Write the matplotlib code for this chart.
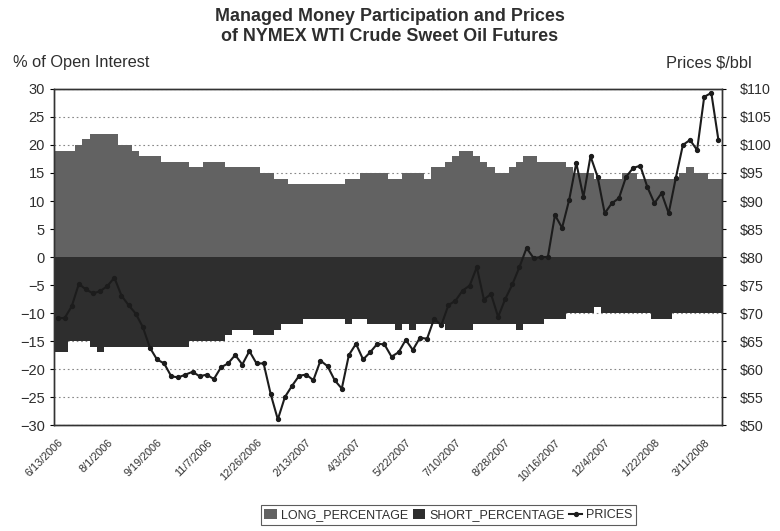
import matplotlib
matplotlib.use("Agg")
import matplotlib.pyplot as plt
import matplotlib.transforms as mtransforms
from matplotlib.patches import Patch
from matplotlib.lines import Line2D
import numpy as np
import pandas as pd

plt.rcParams['font.family'] = ['Liberation Sans', 'DejaVu Sans']

# weekly report dates (Tuesdays)
dates = pd.date_range("2006-06-13", periods=94, freq="7D")

# managed money long share of open interest (%)
long_pct = [19, 19, 19, 20, 21, 22, 22, 22, 22, 20, 20, 19, 18, 18, 18, 17, 17, 17, 17, 16,
            16, 17, 17, 17, 16, 16, 16, 16, 16, 15, 15, 14, 14, 13, 13, 13, 13, 13, 13, 13,
            13, 14, 14, 15, 15, 15, 15, 14, 14, 15, 15, 15, 14, 16, 16, 17, 18, 19, 19, 18,
            17, 16, 15, 15, 16, 17, 18, 18, 17, 17, 17, 17, 16, 15, 15, 15, 14, 14, 14, 14,
            15, 15, 14, 14, 14, 14, 14, 14, 15, 16, 15, 15, 14, 14]

# managed money short share of open interest (%), plotted negative
short_pct = [-17, -17, -15, -15, -15, -16, -17, -16, -16, -16, -16, -16, -16, -16, -16, -16,
             -16, -16, -16, -15, -15, -15, -15, -15, -14, -13, -13, -13, -14, -14, -14, -13,
             -12, -12, -12, -11, -11, -11, -11, -11, -11, -12, -11, -11, -12, -12, -12, -12,
             -13, -12, -13, -12, -12, -12, -12, -13, -13, -13, -13, -12, -12, -12, -12, -12,
             -12, -13, -12, -12, -12, -11, -11, -11, -10, -10, -10, -10, -9, -10, -10, -10,
             -10, -10, -10, -10, -11, -11, -11, -10, -10, -10, -10, -10, -10, -10]

# WTI front month price ($/bbl)
prices = [69.1, 69.1, 71.2, 75.2, 74.2, 73.5, 73.9, 74.8, 76.3, 73.1, 71.4, 69.9, 67.5, 63.8,
          61.7, 61.0, 58.7, 58.5, 59.0, 59.5, 58.7, 59.0, 58.2, 60.3, 61.0, 62.5, 60.8, 63.2,
          61.0, 61.0, 55.5, 51.0, 55.0, 57.0, 58.8, 59.0, 58.0, 61.5, 60.5, 58.0, 56.5, 62.5,
          64.5, 61.7, 63.0, 64.5, 64.4, 62.2, 63.0, 65.2, 63.4, 65.6, 65.4, 69.0, 67.8, 71.4,
          72.2, 74.0, 74.9, 78.2, 72.4, 73.4, 69.3, 72.5, 75.1, 78.2, 81.6, 79.8, 80.0, 80.0,
          87.5, 85.2, 90.2, 96.8, 90.7, 98.0, 94.3, 87.8, 89.6, 90.5, 94.3, 95.9, 96.3, 92.5,
          89.6, 91.4, 87.8, 94.1, 100.0, 100.9, 99.1, 108.6, 109.3, 100.9]

date_labels = [f"{d.month}/{d.day}/{d.year}" for d in dates]
x = np.arange(len(dates))

long_color = '#626262'
short_color = '#2e2e2e'
price_color = '#1c1c1c'
text_color = '#2e2e2e'

fig = plt.figure(figsize=(7.8, 5.31), dpi=100)
ax = fig.add_axes([0.0692, 0.1996, 0.8564, 0.6328])

ax.bar(x, long_pct, width=1.0, color=long_color, linewidth=0)
ax.bar(x, short_pct, width=1.0, color=short_color, linewidth=0)
ax.set_xlim(-0.5, len(x) - 0.5)
ax.set_ylim(-30, 30)
ax.set_yticks(np.arange(-30, 31, 5))
ax.set_axisbelow(True)
ax.yaxis.grid(True, linestyle=(0, (1.5, 2.5)), color='#888888', linewidth=0.8)
ax.set_xticks(x[::7])
ax.set_xticklabels(date_labels[::7], rotation=45, ha='right', va='top',
                   rotation_mode='anchor', fontsize=7.8, color=text_color)
# nudge the slanted date labels a little to the left, like the original
shift = mtransforms.ScaledTranslation(-4 / 100, 0, fig.dpi_scale_trans)
for lbl in ax.get_xticklabels():
    lbl.set_transform(lbl.get_transform() + shift)
ax.tick_params(axis='x', length=0, pad=9)
ax.tick_params(axis='y', labelsize=10.5, length=3, direction='out', labelcolor=text_color)
for s in ax.spines.values():
    s.set_linewidth(1.0)
    s.set_color('#333333')

ax2 = ax.twinx()
ax2.plot(x, prices, color=price_color, linewidth=1.5, marker='o', markersize=2.8)
ax2.set_ylim(50, 110)
ax2.set_yticks(np.arange(50, 111, 5))
ax2.set_yticklabels([f"${v}" for v in range(50, 111, 5)])
ax2.tick_params(axis='y', labelsize=10.3, length=3, direction='out', pad=10,
                labelcolor=text_color)
for s in ax2.spines.values():
    s.set_linewidth(1.0)
    s.set_color('#333333')

fig.text(0.5, 0.985, "Managed Money Participation and Prices\nof NYMEX WTI Crude Sweet Oil Futures",
         ha='center', va='top', fontsize=12.9, fontweight='bold', color=text_color,
         linespacing=1.25)
fig.text(0.017, 0.882, "% of Open Interest", ha='left', va='center', fontsize=11.8, color=text_color)
fig.text(0.964, 0.882, "Prices $/bbl", ha='right', va='center', fontsize=11.8, color=text_color)

handles = [Patch(facecolor=long_color, edgecolor='none'),
           Patch(facecolor=short_color, edgecolor='none'),
           Line2D([0], [0], color=price_color, linewidth=1.5, marker='o', markersize=2.8)]
leg = fig.legend(handles, ["LONG_PERCENTAGE", "SHORT_PERCENTAGE", "PRICES"],
                 loc='center', bbox_to_anchor=(0.5745, 0.030), ncol=3, fontsize=9.0,
                 frameon=True, fancybox=False, handlelength=1.0, handleheight=0.8,
                 handletextpad=0.3, columnspacing=0.4, borderpad=0.3,
                 edgecolor='#333333')
leg.get_frame().set_linewidth(0.8)
for t in leg.get_texts():
    t.set_color(text_color)

fig.savefig("out.png", dpi=100)
